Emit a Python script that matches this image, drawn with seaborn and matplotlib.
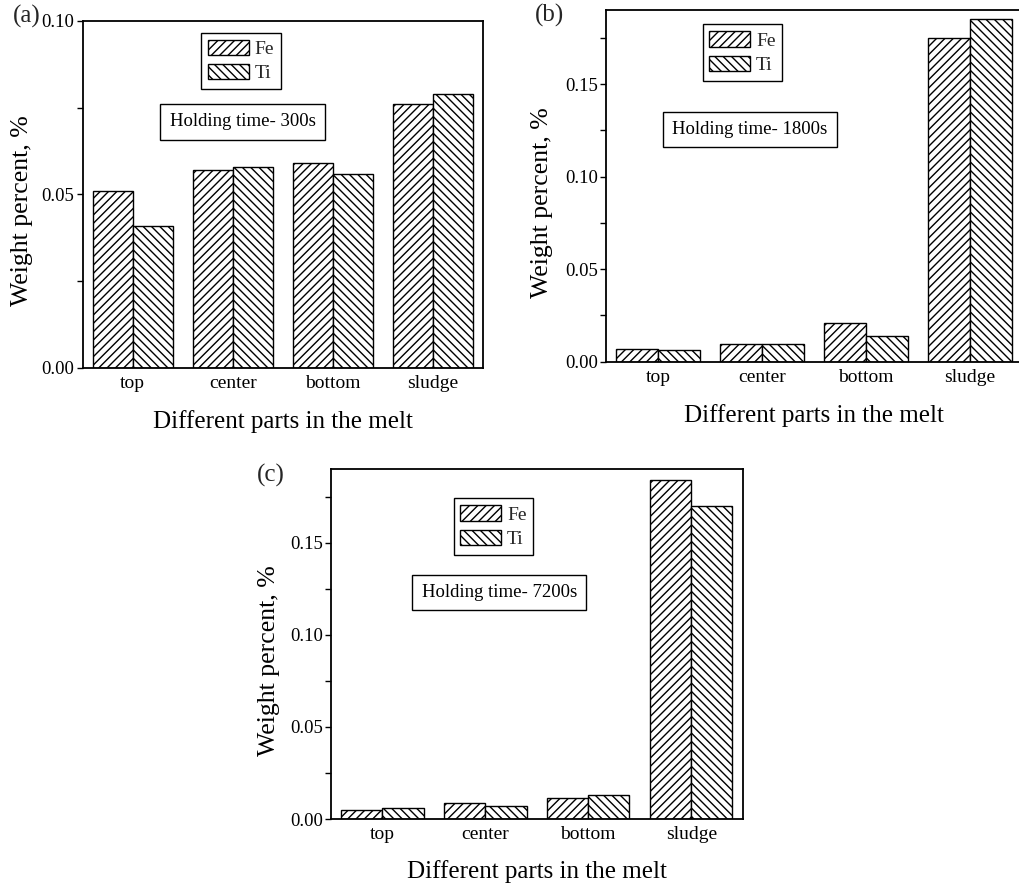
import matplotlib
matplotlib.use("Agg")
import matplotlib.pyplot as plt
import seaborn as sns
import pandas as pd
from matplotlib.patches import Patch
from matplotlib.ticker import MultipleLocator, FormatStrFormatter

# ---- data ----
parts = ["top", "center", "bottom", "sludge"]
elements = ["Fe", "Ti"]
fe_300 = [0.051, 0.057, 0.059, 0.076]
ti_300 = [0.041, 0.058, 0.056, 0.079]
fe_1800 = [0.0070, 0.0095, 0.0211, 0.1748]
ti_1800 = [0.0062, 0.0097, 0.0141, 0.1851]
fe_7200 = [0.0051, 0.0085, 0.0112, 0.1842]
ti_7200 = [0.0061, 0.0071, 0.0130, 0.1701]
panel_labels = ["(a)", "(b)", "(c)"]
holding_texts = ["Holding time- 300s", "Holding time- 1800s", "Holding time- 7200s"]
x_title = "Different parts in the melt"
y_title = "Weight percent, %"

sns.set_theme(style="white")
plt.rcParams["font.family"] = ["Liberation Serif", "DejaVu Serif"]
plt.rcParams["hatch.linewidth"] = 1.0
plt.rcParams["hatch.color"] = "black"

fig = plt.figure(figsize=(10.19, 8.88), dpi=100)

hatches = ["////", "\\\\\\\\"]


def draw(rect, fe, ti, ymax, htxt, leg_xy, txt_xy, lab_xy):
    ax = fig.add_axes(rect)
    df = pd.DataFrame({
        "part": parts * 2,
        "element": [elements[0]] * len(parts) + [elements[1]] * len(parts),
        "value": list(fe) + list(ti),
    })
    sns.barplot(data=df, x="part", y="value", hue="element", order=parts,
                hue_order=elements, palette=["white", "white"], edgecolor="black",
                linewidth=1.0, width=0.8, gap=0, errorbar=None, legend=False,
                saturation=1, ax=ax)
    for cont, h in zip(ax.containers, hatches):
        for bar in cont:
            bar.set_hatch(h)
            bar.set_facecolor("white")
            bar.set_edgecolor("black")
    ax.set_xlim(-0.5, 3.5)
    ax.set_ylim(0, ymax)
    ax.yaxis.set_major_locator(MultipleLocator(0.05))
    ax.yaxis.set_minor_locator(MultipleLocator(0.025))
    ax.yaxis.set_major_formatter(FormatStrFormatter("%.2f"))
    ax.tick_params(axis="y", which="both", left=True, direction="out",
                   color="black", width=1.0, labelsize=13.5, pad=2, labelcolor="black")
    ax.tick_params(axis="y", which="major", length=4)
    ax.tick_params(axis="y", which="minor", length=4)
    ax.tick_params(axis="x", bottom=False, length=0, labelsize=14, pad=5, labelcolor="black")
    for s in ax.spines.values():
        s.set_color("black")
        s.set_linewidth(1.3)
        s.set_visible(True)
    ax.set_xlabel(x_title, fontsize=18, va="center", color="black")
    ax.xaxis.set_label_coords(0.5, lab_xy[1])
    ax.set_ylabel(y_title, fontsize=18.5, va="center", color="black")
    ax.yaxis.set_label_coords(lab_xy[0], 0.452)
    handles = [Patch(facecolor="white", edgecolor="black", hatch=h, label=e)
               for e, h in zip(elements, hatches)]
    leg = ax.legend(handles=handles, loc="upper left", bbox_to_anchor=leg_xy,
                    frameon=True, fancybox=False, edgecolor="black", framealpha=1,
                    handlelength=2.1, handleheight=0.85, fontsize=14, borderpad=0.35,
                    labelspacing=0.3, handletextpad=0.3, borderaxespad=0)
    leg.get_frame().set_linewidth(1.0)
    ax.text(txt_xy[0], txt_xy[1], htxt, transform=ax.transAxes, ha="center",
            va="center", fontsize=13.5, color="black",
            bbox=dict(boxstyle="square,pad=0.5", fc="white", ec="black", lw=1.0))
    return ax


draw([0.0812, 0.5856, 0.3925, 0.3911], fe_300, ti_300, 0.10,
     holding_texts[0], (0.296, 0.965), (0.40, 0.709), (-0.152, -0.155))
draw([0.5947, 0.5927, 0.4082, 0.3960], fe_1800, ti_1800, 0.19,
     holding_texts[1], (0.232, 0.959), (0.346, 0.66), (-0.153, -0.152))
draw([0.3248, 0.0777, 0.4040, 0.3941], fe_7200, ti_7200, 0.19,
     holding_texts[2], (0.298, 0.916), (0.409, 0.647), (-0.150, -0.150))

fig.text(0.0128, 0.981, panel_labels[0], fontsize=18, ha="left", va="center")
fig.text(0.525, 0.983, panel_labels[1], fontsize=18, ha="left", va="center")
fig.text(0.252, 0.465, panel_labels[2], fontsize=18, ha="left", va="center")

fig.savefig("out.png", dpi=100)
